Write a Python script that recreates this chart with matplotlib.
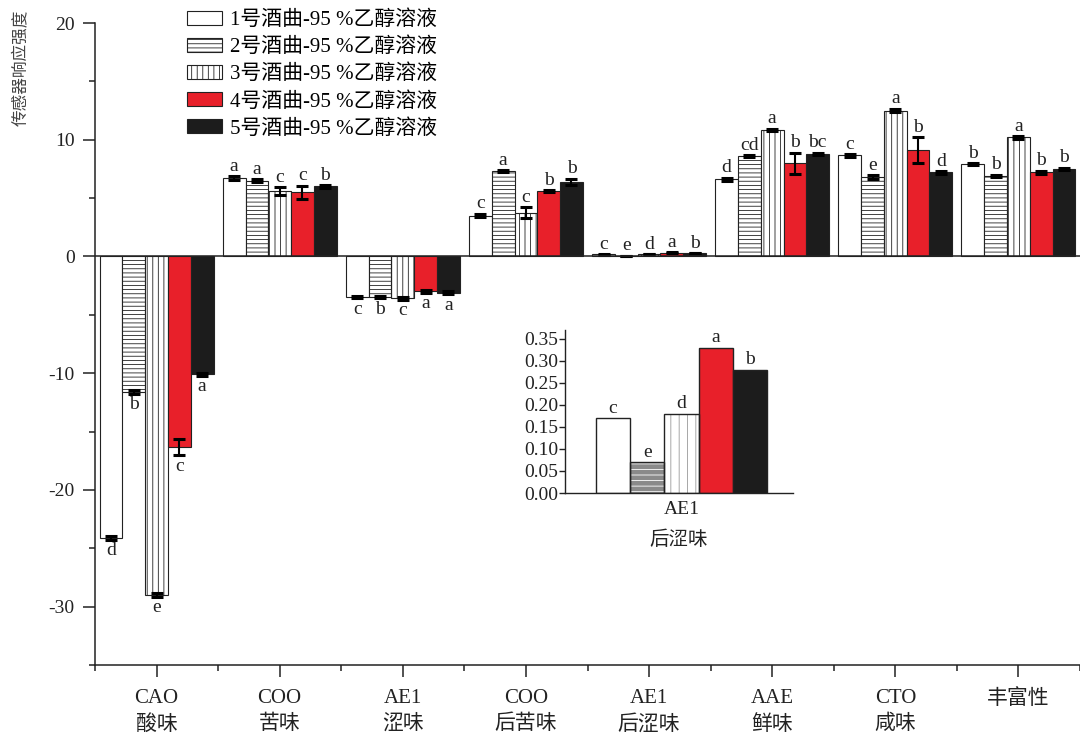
import numpy as np
import matplotlib.pyplot as plt

plt.rcParams['font.family'] = ['Liberation Serif', 'Noto Sans CJK SC']
plt.rcParams['hatch.linewidth'] = 0.6
plt.rcParams['axes.unicode_minus'] = False

cats = ['CAO\n酸味', 'COO\n苦味', 'AE1\n涩味', 'COO\n后苦味', 'AE1\n后涩味',
        'AAE\n鲜味', 'CTO\n咸味', '丰富性']
names = ['1号酒曲-95 %乙醇溶液', '2号酒曲-95 %乙醇溶液', '3号酒曲-95 %乙醇溶液',
         '4号酒曲-95 %乙醇溶液', '5号酒曲-95 %乙醇溶液']

s1 = [-24.1, 6.7, -3.5, 3.5, 0.17, 6.6, 8.65, 7.9]
s2 = [-11.6, 6.5, -3.5, 7.3, 0.07, 8.6, 6.8, 6.9]
s3 = [-29.0, 5.6, -3.6, 3.75, 0.18, 10.85, 12.5, 10.2]
s4 = [-16.3, 5.5, -3.0, 5.6, 0.33, 8.0, 9.1, 7.2]
s5 = [-10.1, 6.0, -3.1, 6.4, 0.28, 8.8, 7.2, 7.5]

e1 = [0.15, 0.15, 0.1, 0.15, 0.01, 0.15, 0.1, 0.1]
e2 = [0.15, 0.1, 0.1, 0.1, 0.01, 0.1, 0.15, 0.1]
e3 = [0.15, 0.35, 0.1, 0.45, 0.01, 0.1, 0.15, 0.1]
e4 = [0.7, 0.55, 0.1, 0.1, 0.01, 0.9, 1.1, 0.15]
e5 = [0.1, 0.1, 0.1, 0.25, 0.01, 0.1, 0.1, 0.1]

L1 = ['d', 'a', 'c', 'c', 'c', 'd', 'c', 'b']
L2 = ['b', 'a', 'b', 'a', 'e', 'cd', 'e', 'b']
L3 = ['e', 'c', 'c', 'c', 'd', 'a', 'a', 'a']
L4 = ['c', 'c', 'a', 'b', 'a', 'b', 'b', 'b']
L5 = ['a', 'b', 'a', 'b', 'b', 'bc', 'd', 'b']

# inset: AE1 后涩味 zoomed
inset_vals = [0.17, 0.07, 0.18, 0.33, 0.28]
inset_letters = ['c', 'e', 'd', 'a', 'b']

series = [s1, s2, s3, s4, s5]
errs = [e1, e2, e3, e4, e5]
letters = [L1, L2, L3, L4, L5]
faces = ['white', 'white', 'white', '#e8202a', '#1c1c1c']
hatches = [None, '----', '|||', None, None]
ink = '#222222'

fig = plt.figure(figsize=(10.8, 7.36), dpi=100)
ax = fig.add_axes([95/1080, 71/736, 985/1080, 642/736])

x = np.arange(1, len(cats) + 1)
w = 0.185
for i in range(5):
    xs = x + (i - 2) * w
    ax.bar(xs, series[i], w, color=faces[i], edgecolor=ink, linewidth=0.8,
           hatch=hatches[i], label=names[i], zorder=2)
    ax.errorbar(xs, series[i], yerr=errs[i], fmt='none', ecolor='black',
                elinewidth=1.5, capsize=4.5, capthick=2.2, zorder=3)
    for xv, v, e, t in zip(xs, series[i], errs[i], letters[i]):
        if v >= 0:
            ax.annotate(t, (xv, v + e), xytext=(0, 1), textcoords='offset points',
                        ha='center', va='bottom', fontsize=14, color=ink)
        else:
            ax.annotate(t, (xv, v - e), xytext=(0, -2), textcoords='offset points',
                        ha='center', va='top', fontsize=14, color=ink)

ax.axhline(0, color=ink, linewidth=1.1, zorder=4)
ax.set_xlim(0.5, 8.5)
ax.set_ylim(-35, 20)
ax.set_yticks([-30, -20, -10, 0, 10, 20])
ax.set_yticks(np.arange(-35, 21, 5), minor=True)
ax.set_xticks(x)
ax.set_xticklabels(cats, linespacing=1.45)
ax.set_xticks(np.arange(0.5, 8.6, 1), minor=True)
ax.tick_params(axis='both', which='major', length=8.5, width=1.1,
               colors=ink, direction='out')
ax.tick_params(axis='both', which='minor', length=4.5, width=1.1, direction='out',
               colors=ink)
ax.tick_params(axis='y', which='major', labelsize=14, pad=6)
ax.tick_params(axis='x', which='major', labelsize=15, pad=9)
for side in ['top', 'right']:
    ax.spines[side].set_visible(False)
for side in ['left', 'bottom']:
    ax.spines[side].set_linewidth(1.1)
    ax.spines[side].set_color(ink)

fig.text(22/1080, 1 - 68/736, '传感器响应强度', rotation=90, ha='center',
         va='center', fontsize=12, color='#444444')

ax.legend(loc='upper left', bbox_to_anchor=(177/1080, 1.0),
          bbox_transform=fig.transFigure, frameon=False, fontsize=15,
          handlelength=1.65, handleheight=0.65, labelspacing=0.36,
          handletextpad=0.38, borderpad=0)

# inset axes
ia = fig.add_axes([565/1080, 243/736, 228/1080, 163/736])
xi = (np.arange(5) - 2) * 0.2
inset_faces = ['white', '#8a8a8a', 'white', '#e8202a', '#1c1c1c']
inset_hatch = [None, '---', '||', None, None]
inset_hcol = [ink, 'white', '#999999', ink, ink]
for k in range(5):
    ia.bar(xi[k], inset_vals[k], 0.2, color=inset_faces[k],
           edgecolor=inset_hcol[k], hatch=inset_hatch[k], linewidth=0, zorder=2)
    ia.bar(xi[k], inset_vals[k], 0.2, fill=False, edgecolor=ink,
           linewidth=1.0, zorder=3)
    ia.annotate(inset_letters[k], (xi[k], inset_vals[k]), xytext=(0, 1),
                textcoords='offset points', ha='center', va='bottom',
                fontsize=14, color=ink)
ia.set_xlim(-0.68, 0.65)
ia.set_ylim(0, 0.37)
ia.set_yticks(np.arange(0, 0.36, 0.05))
ia.set_yticklabels([f'{v:.2f}' for v in np.arange(0, 0.36, 0.05)])
ia.set_xticks([0])
ia.set_xticklabels(['AE1'])
ia.tick_params(axis='y', length=4, width=1.0, labelsize=14, colors=ink, pad=1)
ia.tick_params(axis='x', length=0, labelsize=14, colors=ink, pad=6)
ia.set_xlabel('后涩味', fontsize=14, color=ink, labelpad=9)
ia.patch.set_alpha(0)
for side in ['top', 'right']:
    ia.spines[side].set_visible(False)
for side in ['left', 'bottom']:
    ia.spines[side].set_linewidth(1.0)
    ia.spines[side].set_color(ink)

fig.savefig('out.png', dpi=100)
